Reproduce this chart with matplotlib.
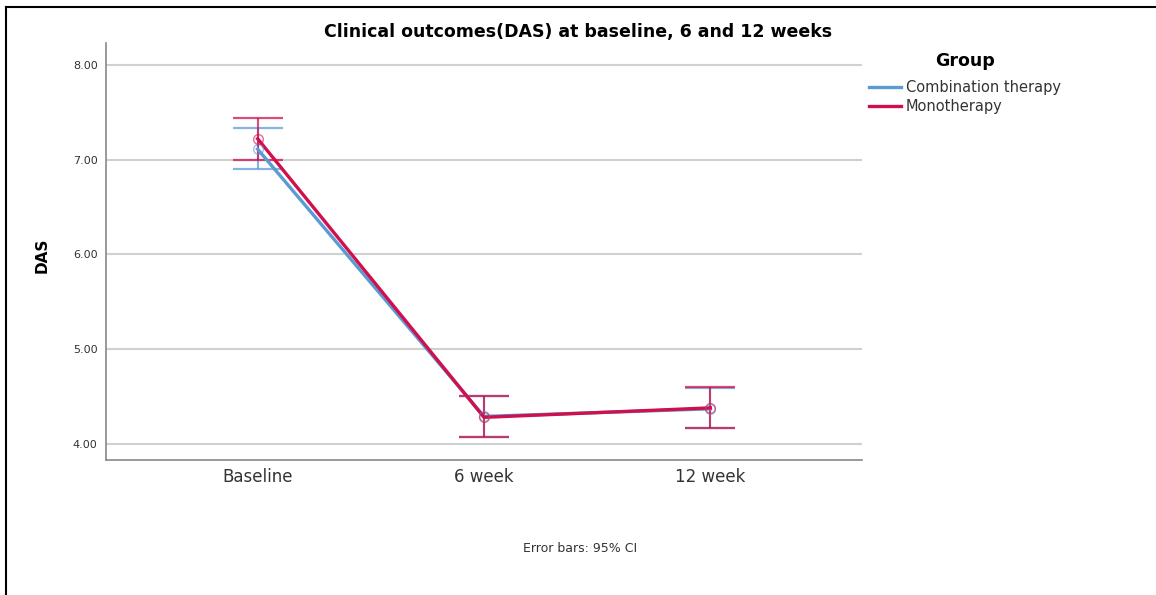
import matplotlib.pyplot as plt
from matplotlib.lines import Line2D

times = ['Baseline', '6 week', '12 week']
groups = ['Combination therapy', 'Monotherapy']

comb_mean = [7.11, 4.29, 4.37]
comb_lo = [6.90, 4.07, 4.17]
comb_hi = [7.33, 4.51, 4.59]

mono_mean = [7.22, 4.28, 4.38]
mono_lo = [7.00, 4.07, 4.17]
mono_hi = [7.44, 4.51, 4.60]

yticks = [4.0, 5.0, 6.0, 7.0, 8.0]

colors = {'Combination therapy': '#5b9bd5', 'Monotherapy': '#d0104c'}

fig = plt.figure(figsize=(11.56, 5.95), dpi=100)
ax = fig.add_axes([0.0917, 0.2269, 0.654, 0.7008])

x = list(range(len(times)))
series = [(groups[0], comb_mean, comb_lo, comb_hi),
          (groups[1], mono_mean, mono_lo, mono_hi)]

for name, mean, lo, hi in series:
    c = colors[name]
    yerr = [[m - l for m, l in zip(mean, lo)], [h - m for m, h in zip(mean, hi)]]
    ax.errorbar(x, mean, yerr=yerr, fmt='none', ecolor=c, elinewidth=1.5,
                capsize=18, capthick=1.6, alpha=0.75, zorder=3)
    ax.plot(x, mean, color=c, linewidth=2.4, label=name, zorder=4)
    ax.plot(x, mean, 'o', markersize=7, markerfacecolor='none',
            markeredgecolor=c, markeredgewidth=1.0, alpha=0.6, zorder=5)

ax.set_xlim(-0.67, 2.67)
ax.set_ylim(3.83, 8.23)
ax.set_xticks(x)
ax.set_xticklabels(times, fontsize=12, color='#333333')
ax.set_yticks(yticks)
ax.set_yticklabels(['%.2f' % v for v in yticks], fontsize=8, color='#333333')
ax.tick_params(axis='both', length=0, pad=6)
ax.grid(axis='y', color='#d0d0d0', linewidth=1.5)
ax.set_axisbelow(True)
for s in ['top', 'right']:
    ax.spines[s].set_visible(False)
for s in ['left', 'bottom']:
    ax.spines[s].set_color('#888888')
    ax.spines[s].set_linewidth(1.2)

fig.text(0.0363, 0.571, 'DAS', fontsize=11, fontweight='bold', rotation=90,
         ha='center', va='center')
fig.text(0.5, 0.946, 'Clinical outcomes(DAS) at baseline, 6 and 12 weeks',
         fontsize=12.5, fontweight='bold', ha='center', va='center')

leg = ax.legend(loc='upper left', bbox_to_anchor=(1.0, 0.995), frameon=False,
                title='Group', fontsize=10.5, handlelength=2.2, handletextpad=0.3,
                labelspacing=0.3, borderaxespad=0.2, borderpad=0.3)
leg.get_title().set_fontweight('bold')
leg.get_title().set_fontsize(12.5)
leg._legend_box.align = 'center'
leg._legend_box.sep = 7
for t in leg.get_texts():
    t.set_color('#333333')

fig.text(0.502, 0.078, 'Error bars: 95% CI', fontsize=9, ha='center',
         va='center', color='#333333')

# frame lines from the original screenshot
fig.add_artist(Line2D([0.005, 1.0], [0.988, 0.988], color='black', linewidth=1.5))
fig.add_artist(Line2D([0.0055, 0.0055], [0.0, 0.988], color='black', linewidth=1.5))

fig.savefig('out.png', dpi=100)
